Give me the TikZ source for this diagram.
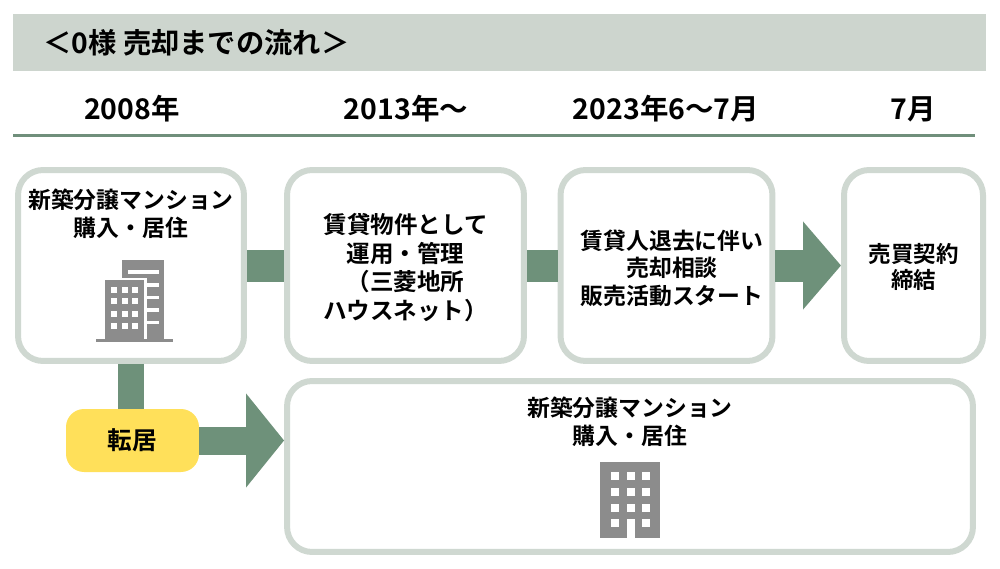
\documentclass[tikz,border=0pt]{standalone}
\usepackage{fontspec}
\setmainfont{Noto Sans CJK JP Bold}
\usetikzlibrary{arrows.meta}
\definecolor{headfill}{HTML}{CDD5CE}
\definecolor{boxline}{HTML}{CFD8D1}
\definecolor{flowgreen}{HTML}{6E917A}
\definecolor{moveyellow}{HTML}{FFE05A}
\definecolor{bldgray}{HTML}{8C8C8C}
\tikzset{
  stepbox/.style={draw=boxline,line width=0.12cm,rounded corners=0.5cm,fill=white,inner sep=0pt,minimum height=3.82cm},
  datelabel/.style={font=\fontsize{16.2}{18}\selectfont,inner sep=0pt},
  boxtext/.style={align=center,inner sep=0pt,font=\fontsize{13}{16}\selectfont},
  flowbar/.style={draw=flowgreen,line width=0.64cm},
  flowarrow/.style={draw=flowgreen,line width=0.64cm,-{Triangle[length=0.76cm,width=1.72cm,fill=flowgreen]}},
  movearrow/.style={draw=flowgreen,line width=0.56cm,-{Triangle[length=0.76cm,width=1.84cm,fill=flowgreen]}},
}
\begin{document}
\begin{tikzpicture}[x=0.02cm,y=-0.02cm]
\useasboundingbox (0,0) rectangle (1000,568);
% Header:
\fill[headfill] (13,14) rectangle (986,71);
\node (title) [anchor=west,inner sep=0pt,font=\fontsize{16.1}{18}\selectfont] at (43,43) {＜0様 売却までの流れ＞};
\node (date1) [datelabel] at (132,109) {2008年};
\node (date2) [datelabel] at (406,109) {2013年～};
\node (date3) [datelabel] at (666,109) {2023年6～7月};
\node (date4) [datelabel] at (913,109) {7月};
\draw[flowgreen!90!gray,line width=0.06cm] (13,135) -- (975,135);
% Boxes:
\node (box1) [stepbox,minimum width=4.52cm] at (131,265.5) {};
\node (box2) [stepbox,minimum width=4.74cm] at (405.5,265.5) {};
\node (box3) [stepbox,minimum width=4.24cm] at (666.5,265.5) {};
\node (box4) [stepbox,minimum width=2.78cm] at (913.5,265.5) {};
\node (box5) [stepbox,minimum width=13.72cm,minimum height=3.42cm] at (630,466.5) {};
\node (move) [fill=moveyellow,rounded corners=0.36cm,minimum width=2.66cm,minimum height=1.26cm,inner sep=0pt,
  font=\fontsize{14}{16}\selectfont] at (132.5,440.5) {転居};
% Box texts:
\node (text1) [boxtext] at (131,214) {新築分譲マンション\\購入・居住};
\node (text2) [boxtext,font=\fontsize{13.4}{16.3}\selectfont] at (405.5,267.5)
  {賃貸物件として\\運用・管理\\（三菱地所\\ハウスネット）};
\node (text3) [boxtext,font=\fontsize{13}{15.6}\selectfont] at (672,268)
  {賃貸人退去に伴い\\売却相談\\販売活動スタート};
\node (text4) [boxtext,font=\fontsize{12.8}{14.8}\selectfont] at (913.5,267)
  {売買契約\\締結};
\node (text5) [boxtext] at (630,422) {新築分譲マンション\\購入・居住};
% Connectors:
\draw[flowbar] (box1) -- (box2);
\draw[flowbar] (box2) -- (box3);
\draw[flowarrow] (box3) -- (box4);
\draw[movearrow] (move.east) -- (move.east -| box5.west);
\draw[draw=flowgreen,line width=0.54cm] (box1.south) -- (box1.south |- move.north);
% Building, two towers:
\fill[bldgray] (122.3,260) rectangle (164.3,342);
\fill[white] (128.3,270) rectangle (159,274.3);
\foreach \y in {283.3,295.7,308.3,320.7} {
  \fill[white] (147,\y) rectangle (159,\y+3.4);
}
\fill[white] (103,277.5) rectangle (147,342);
\fill[bldgray] (105,280) rectangle (144.3,342);
\foreach \x in {111,121.7,132.3} {
  \foreach \y in {286.7,298.3,310.7,322.7} {
    \fill[white] (\x,\y) rectangle (\x+6,\y+6);
  }
}
\fill[bldgray] (95.7,339) rectangle (172.7,342);
% Building, single tower:
\fill[bldgray] (600.3,461.7) rectangle (660.3,537.7);
\foreach \x in {610.7,626.7,642.3} {
  \foreach \y in {472,488,504} {
    \fill[white] (\x,\y) rectangle (\x+8,\y+8);
  }
}
\fill[white] (610.7,519.3) rectangle (618.7,527.3);
\fill[white] (642.3,519.3) rectangle (650.3,527.3);
\fill[white] (626.7,519.3) rectangle (634.7,537.7);
\end{tikzpicture}
\end{document}
